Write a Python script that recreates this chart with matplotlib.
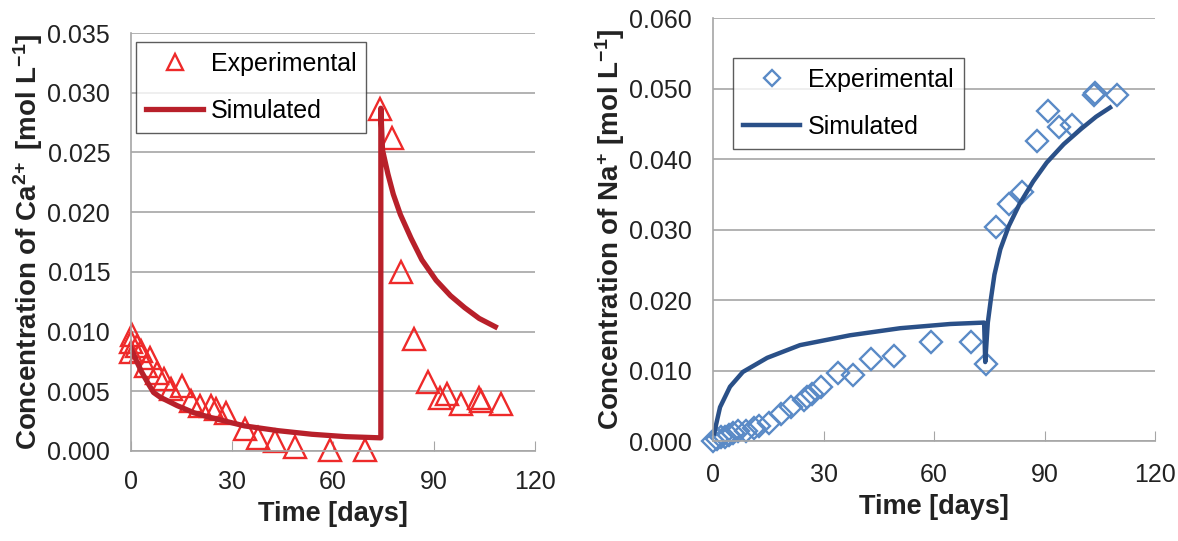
import matplotlib
matplotlib.use("Agg")
from matplotlib import pyplot as plt

plt.rcParams["font.family"] = ["Liberation Sans", "DejaVu Sans"]
plt.rcParams["mathtext.fontset"] = "custom"
plt.rcParams["mathtext.rm"] = "Liberation Sans"
plt.rcParams["mathtext.bf"] = "Liberation Sans:bold"
plt.rcParams["mathtext.default"] = "bf"

# Ca2+ data
ca_exp_t = [0, 0, 0.3, 1.9, 3, 4.6, 5.6, 7.8, 9.7, 11.8, 15, 17.9, 20.5, 23.7,
            25.3, 28.3, 33.9, 37.7, 42.8, 48.8, 59, 69.6,
            74, 77.4, 80.2, 84, 88.1, 91.7, 93.8, 98, 103.4, 104, 110]
ca_exp_c = [0.0091, 0.0083, 0.0097, 0.0088, 0.0084, 0.0071, 0.0078, 0.0065,
            0.0060, 0.0052, 0.0054, 0.0042, 0.0038, 0.0038, 0.0035, 0.0032,
            0.0018, 0.0011, 0.0008, 0.0003, 0.0001, 0.0001,
            0.0286, 0.0262, 0.0150, 0.0094, 0.0058, 0.0044, 0.0048, 0.0039,
            0.0044, 0.0042, 0.0039]
ca_sim_t = [0, 1.7, 3.2, 5, 6.7, 8.7, 13.7, 18.7, 23.7, 33.7, 43.7, 53.7, 63.7,
            74.2, 74.2, 74.7, 76.3, 77.9, 80, 83.2, 86.4, 90.6, 94.9, 99.1,
            103.4, 108.2]
ca_sim_c = [0.0086, 0.0075, 0.0066, 0.0057, 0.0049, 0.0045, 0.0038, 0.0032,
            0.0028, 0.0021, 0.0017, 0.0014, 0.0012, 0.0011,
            0.0287, 0.0252, 0.0232, 0.0215, 0.0198, 0.0178, 0.0160, 0.0143,
            0.0130, 0.0120, 0.0111, 0.0104]

# Na+ data
na_exp_t = [0, 1.1, 2.1, 3.2, 4.2, 5.3, 6.8, 9, 11, 12.6, 15.3, 18.4, 21.1,
            24.6, 25.6, 26.9, 29.3, 34, 37.9, 42.9, 49.2, 59.1, 69.9, 74.1,
            76.9, 80.4, 83.8, 88, 90.9, 93.8, 97.5, 103.3, 103.6, 109.6]
na_exp_c = [0.0, 0.0003, 0.0005, 0.0006, 0.0009, 0.0011, 0.0014, 0.0014,
            0.0019, 0.0022, 0.0026, 0.0038, 0.0048, 0.0058, 0.0063, 0.0067,
            0.0077, 0.0097, 0.0094, 0.0116, 0.0121, 0.0141, 0.0141, 0.0109,
            0.0304, 0.0336, 0.0353, 0.0426, 0.0468, 0.0445, 0.0448, 0.0491,
            0.0493, 0.0491]
na_sim_t = [0.3, 1.9, 4.6, 8.1, 14.7, 23.6, 37.2, 50.8, 64.4, 73.6, 73.9,
            74.6, 75.4, 76.4, 78, 80.3, 83.2, 86.9, 90.6, 95.2, 100, 104,
            107.8]
na_sim_c = [0.0011, 0.0048, 0.0077, 0.0098, 0.0118, 0.0136, 0.0150, 0.0160,
            0.0166, 0.0168, 0.0112, 0.0168, 0.0200, 0.0236, 0.0272, 0.0305,
            0.0336, 0.0368, 0.0395, 0.0421, 0.0443, 0.0460, 0.0473]

grid_col = "#a6a6a6"
text_col = "#222222"

fig = plt.figure(figsize=(11.78, 5.41), dpi=100)
ax1 = fig.add_axes([0.1112, 0.1664, 0.3430, 0.7726])
ax2 = fig.add_axes([0.6053, 0.1848, 0.3752, 0.7819])


def style(ax, ymax, ystep, xpad):
    ax.set_xlim(0, 120)
    ax.set_ylim(0, ymax)
    ax.set_xticks([0, 30, 60, 90, 120])
    yt = [i * ystep for i in range(int(round(ymax / ystep)) + 1)]
    ax.set_yticks(yt)
    ax.set_yticklabels(["{:.3f}".format(v) for v in yt])
    ax.grid(axis="y", color=grid_col, linewidth=1.2)
    ax.set_axisbelow(True)
    for s in ["top", "right"]:
        ax.spines[s].set_visible(False)
    for s in ["left", "bottom"]:
        ax.spines[s].set_color(grid_col)
        ax.spines[s].set_linewidth(1.2)
    ax.tick_params(axis="x", direction="in", length=7, color=grid_col,
                   labelsize=18, pad=xpad, labelcolor=text_col)
    ax.tick_params(axis="y", length=0, labelsize=18, pad=15,
                   labelcolor=text_col)
    ax.set_xlabel("Time [days]", fontsize=19.5, fontweight="bold",
                  labelpad=5, color=text_col)


ax1.plot(ca_exp_t, ca_exp_c, linestyle="none", marker="^", ms=15.5,
         mfc="none", mec="#ee2a2a", mew=1.7, label="Experimental",
         clip_on=False)
ax1.plot(ca_sim_t, ca_sim_c, color="#b8202a", lw=3.8, label="Simulated")
style(ax1, 0.035, 0.005, 14)
ax1.set_ylabel(r"Concentration of Ca$^{2\!+}$ [mol L$^{-1}$]",
               fontsize=20, fontweight="bold", labelpad=2, color=text_col)
ax1.legend(loc="upper left", bbox_to_anchor=(0.012, 0.978), borderaxespad=0,
           fontsize=18, frameon=True, fancybox=False, edgecolor="#333333",
           handlelength=2.3, handletextpad=0.3, borderpad=0.4,
           labelspacing=0.9, markerscale=0.75)

ax2.plot(na_exp_t, na_exp_c, linestyle="none", marker="D", ms=11,
         mfc="none", mec="#5a8ac6", mew=1.7, label="Experimental",
         clip_on=False)
ax2.plot(na_sim_t, na_sim_c, color="#2a5088", lw=3.2, label="Simulated")
style(ax2, 0.060, 0.010, 16)
ax2.set_ylabel(r"Concentration of Na$^{+}$ [mol L$^{-1}$]",
               fontsize=20, fontweight="bold", labelpad=2, color=text_col)
ax2.legend(loc="upper left", bbox_to_anchor=(0.045, 0.905), borderaxespad=0,
           fontsize=18, frameon=True, fancybox=False, edgecolor="#333333",
           handlelength=2.3, handletextpad=0.3, borderpad=0.4,
           labelspacing=0.9, markerscale=0.75)

plt.savefig("out.png", dpi=100)
